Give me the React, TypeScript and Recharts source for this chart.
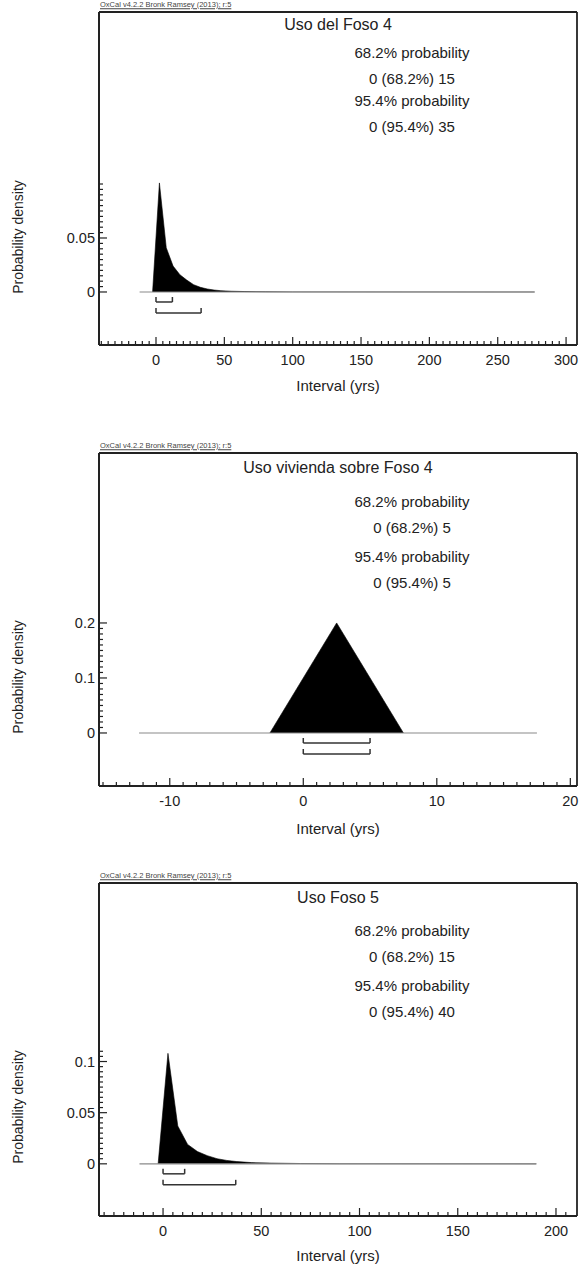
import React from 'react';
import { ComposedChart, Area, XAxis, YAxis, ReferenceLine } from 'recharts';

// ---------- data ----------
const panelTitles = ['Uso del Foso 4', 'Uso vivienda sobre Foso 4', 'Uso Foso 5'];
const oxcalLabel = 'OxCal v4.2.2 Bronk Ramsey (2013); r:5';

// reported ranges (text)
const prob68 = [[0, 15], [0, 5], [0, 15]];
const prob95 = [[0, 35], [0, 5], [0, 40]];
// drawn range brackets
const bracket68 = [[0, 12], [0, 5], [0, 11]];
const bracket95 = [[0, 33], [0, 5], [0, 37]];

// density curves
const foso4X = [-2.5, 2.5, 7.5, 12.5, 17.5, 22.5, 27.5, 32.5, 37.5, 42.5, 47.5, 55, 65, 80, 100, 277];
const foso4P = [0, 0.101, 0.041, 0.024, 0.016, 0.011, 0.0068, 0.0043, 0.0028, 0.0018, 0.0012, 0.0007, 0.0004, 0.0002, 0.0001, 0];
const viviendaX = [-2.5, 2.5, 7.5];
const viviendaP = [0, 0.2, 0];
const foso5X = [-2.5, 2.5, 7.5, 12.5, 17.5, 22.5, 27.5, 32.5, 37.5, 45, 55, 70, 90, 190];
const foso5P = [0, 0.108, 0.037, 0.019, 0.012, 0.008, 0.005, 0.0033, 0.0022, 0.0012, 0.0007, 0.0003, 0.0001, 0];
const curveX = [foso4X, viviendaX, foso5X];
const curveP = [foso4P, viviendaP, foso5P];

// baseline extent of each plot
const baselines = [[-12, 277], [-12.3, 17.5], [-12, 190]];

// tick labels
const xMajorTicks = [[0, 50, 100, 150, 200, 250, 300], [-10, 0, 10, 20], [0, 50, 100, 150, 200]];
const yMajorTicks = [[0, 0.05], [0, 0.1, 0.2], [0, 0.05, 0.1]];
const xMinorSpec = [[-40, 300, 5], [-15, 20, 1], [-30, 205, 5]];
const yMinorSpec = [[0, 0.1, 0.005], [0, 0.2, 0.01], [0, 0.11, 0.005]];

// ---------- layout ----------
const xDomains = [[-41.7, 308], [-15.3, 20.5], [-32.6, 210.7]];
const yDomains = [[-0.0491, 0.2593], [-0.0964, 0.509], [-0.051, 0.2745]];
const frameTops = [12, 453, 883];
const PLOT_LEFT = 99;
const PLOT_RIGHT = 577;
const PLOT_H = 333;
const CHART_W = 582;
const TOP_PAD = 12;
const Y_AXIS_W = 40;
const X_AXIS_H = 30;
const CHART_H = TOP_PAD + PLOT_H + X_AXIS_H + 4;

const titleY = [25, 468, 898];
const probY = [[52, 78, 100, 126], [501, 527, 556, 582], [930, 956, 985, 1011]];
const yLabelY = [237, 677, 1107];
const xLabelY = [385, 828, 1255];

const FONT = "'Liberation Sans', Arial, Helvetica, sans-serif";
const INK = '#222';

const makeTicks = (spec: number[]) => {
  const [a, b, s] = spec;
  const out: number[] = [];
  const n = Math.round((b - a) / s);
  for (let i = 0; i <= n; i++) out.push(+(a + i * s).toFixed(6));
  return out;
};
const isIn = (v: number, arr: number[]) => arr.some((m) => Math.abs(m - v) < 1e-7);
const fmt = (v: number) => String(+v.toFixed(4));

const makeXTick = (majors: number[]) => (props: any) => {
  const { x, y, payload } = props;
  const v = payload.value;
  const major = isIn(v, majors);
  return (
    <g>
      <line x1={x} x2={x} y1={y} y2={y - (major ? 8 : 4)} stroke={INK} strokeWidth={1.2} />
      {major && (
        <text x={x} y={y + 15} textAnchor="middle" dominantBaseline="central" fontSize={14.5} fill={INK} fontFamily={FONT}>
          {fmt(v)}
        </text>
      )}
    </g>
  );
};

const makeYTick = (majors: number[]) => (props: any) => {
  const { x, y, payload } = props;
  const v = payload.value;
  const major = isIn(v, majors);
  return (
    <g>
      <line x1={x} x2={x + (major ? 8 : 4)} y1={y} y2={y} stroke={INK} strokeWidth={1.2} />
      {major && (
        <text x={x - 4} y={y} textAnchor="end" dominantBaseline="central" fontSize={14.5} fill={INK} fontFamily={FONT}>
          {fmt(v)}
        </text>
      )}
    </g>
  );
};

const Panel = ({ i }: { i: number }) => {
  const data = curveX[i].map((x, k) => ({ x, p: curveP[i][k] }));
  const [y0, y1] = yDomains[i];
  const pxPerUnit = PLOT_H / (y1 - y0);
  const off = (px: number) => -px / pxPerUnit;
  const bracketSegs = (r: number[], lineOff: number) => {
    const yl = off(lineOff);
    const yt = off(lineOff - 5);
    return [
      [{ x: r[0], y: yt }, { x: r[0], y: yl }],
      [{ x: r[0], y: yl }, { x: r[1], y: yl }],
      [{ x: r[1], y: yl }, { x: r[1], y: yt }],
    ];
  };
  const segs = [...bracketSegs(bracket68[i], 10), ...bracketSegs(bracket95[i], 21)];
  return (
    <div style={{ position: 'absolute', left: 0, top: frameTops[i] - TOP_PAD, width: CHART_W, height: CHART_H }}>
      <ComposedChart
        width={CHART_W}
        height={CHART_H}
        data={data}
        margin={{
          top: TOP_PAD,
          right: CHART_W - PLOT_RIGHT,
          bottom: CHART_H - TOP_PAD - PLOT_H - X_AXIS_H,
          left: PLOT_LEFT - Y_AXIS_W,
        }}
      >
        <XAxis
          dataKey="x"
          type="number"
          domain={xDomains[i]}
          allowDataOverflow
          ticks={makeTicks(xMinorSpec[i])}
          interval={0}
          height={X_AXIS_H}
          tickSize={0}
          tickMargin={0}
          tickLine={false}
          tick={makeXTick(xMajorTicks[i])}
          axisLine={{ stroke: INK, strokeWidth: 2 }}
        />
        <YAxis
          type="number"
          domain={yDomains[i]}
          allowDataOverflow
          ticks={makeTicks(yMinorSpec[i])}
          interval={0}
          width={Y_AXIS_W}
          tickSize={0}
          tickMargin={0}
          tickLine={false}
          tick={makeYTick(yMajorTicks[i])}
          axisLine={{ stroke: INK, strokeWidth: 2 }}
        />
        <ReferenceLine
          segment={[{ x: baselines[i][0], y: 0 }, { x: baselines[i][1], y: 0 }]}
          stroke="#8a8a8a"
          strokeWidth={1.2}
          ifOverflow="visible"
        />
        <Area
          type="linear"
          dataKey="p"
          baseValue={0}
          fill="#000"
          fillOpacity={1}
          stroke="#000"
          strokeWidth={0.6}
          isAnimationActive={false}
          dot={false}
          activeDot={false}
        />
        {segs.map((s, k) => (
          <ReferenceLine key={k} segment={s} stroke="#333" strokeWidth={1.5} ifOverflow="visible" />
        ))}
        <ReferenceLine y={y1} stroke={INK} strokeWidth={1.8} ifOverflow="visible" />
        <ReferenceLine x={xDomains[i][1]} stroke={INK} strokeWidth={1.8} ifOverflow="visible" />
      </ComposedChart>
    </div>
  );
};

const Txt = ({ x, y, size, children, anchor = 'center', style = {} }: any) => (
  <div
    style={{
      position: 'absolute',
      left: x,
      top: y,
      transform: anchor === 'center' ? 'translate(-50%, -50%)' : 'translate(0, -50%)',
      fontFamily: FONT,
      fontSize: size,
      lineHeight: 1,
      color: INK,
      whiteSpace: 'nowrap',
      ...style,
    }}
  >
    {children}
  </div>
);

export default function App() {
  const midX = (PLOT_LEFT + PLOT_RIGHT) / 2;
  return (
    <div style={{ position: 'absolute', left: 0, top: 0, width: 582, height: 1271, background: '#fff', overflow: 'hidden' }}>
      {[0, 1, 2].map((i) => (
        <React.Fragment key={i}>
          <Panel i={i} />
          <Txt x={100} y={frameTops[i] - 7} size={7.5} anchor="left" style={{ textDecoration: 'underline', color: '#444' }}>
            {oxcalLabel}
          </Txt>
          <Txt x={midX} y={titleY[i]} size={16}>{panelTitles[i]}</Txt>
          <Txt x={412} y={probY[i][0]} size={15}>68.2% probability</Txt>
          <Txt x={412} y={probY[i][1]} size={15}>{`${prob68[i][0]} (68.2%) ${prob68[i][1]}`}</Txt>
          <Txt x={412} y={probY[i][2]} size={15}>95.4% probability</Txt>
          <Txt x={412} y={probY[i][3]} size={15}>{`${prob95[i][0]} (95.4%) ${prob95[i][1]}`}</Txt>
          <Txt x={18} y={yLabelY[i]} size={14} style={{ transform: 'translate(-50%, -50%) rotate(-90deg)' }}>
            Probability density
          </Txt>
          <Txt x={midX} y={xLabelY[i]} size={15}>Interval (yrs)</Txt>
        </React.Fragment>
      ))}
    </div>
  );
}
